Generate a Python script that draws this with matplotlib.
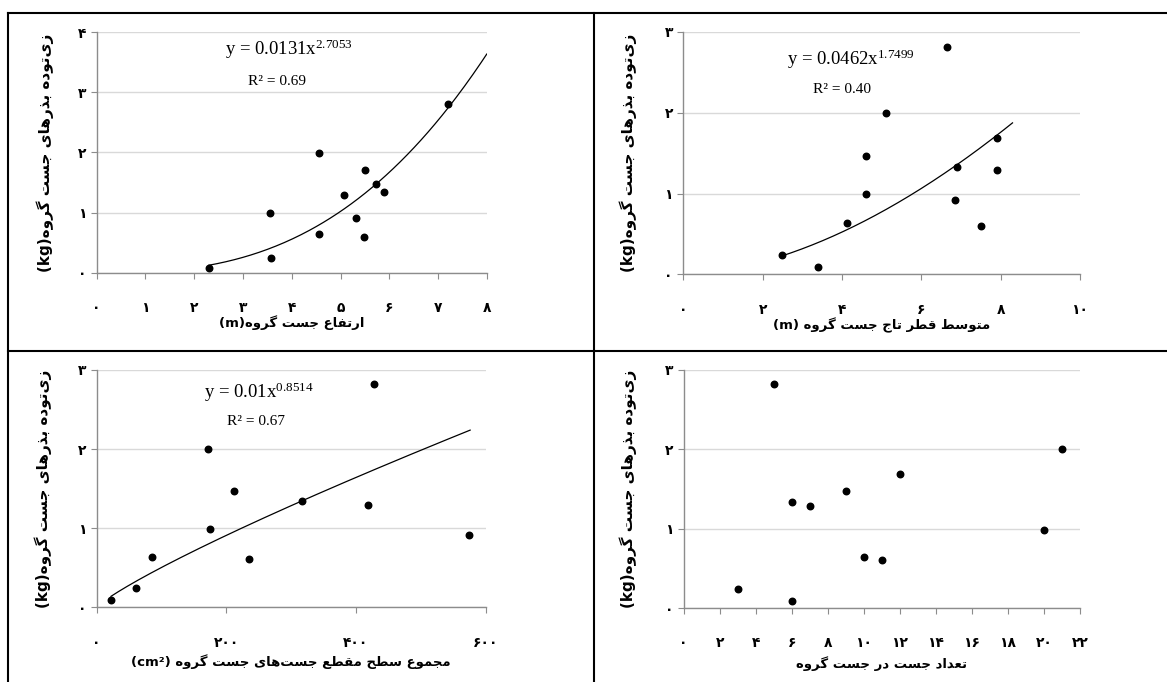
import numpy as np
import matplotlib
matplotlib.use('Agg')
import matplotlib.pyplot as plt
from matplotlib.ticker import FuncFormatter

# داده‌ها
height_x = [2.30, 3.56, 3.58, 4.56, 4.56, 5.07, 5.31, 5.48, 5.51, 5.72, 5.89, 7.21]
height_y = [0.08, 0.99, 0.24, 1.99, 0.64, 1.29, 0.91, 0.60, 1.70, 1.47, 1.34, 2.81]

crown_x = [2.49, 3.40, 4.13, 4.60, 4.60, 5.10, 6.66, 6.85, 6.90, 7.50, 7.91, 7.92]
crown_y = [0.235, 0.087, 0.64, 0.99, 1.46, 2.00, 2.82, 0.92, 1.33, 0.60, 1.69, 1.29]

area_x = [22, 61, 85, 172, 175, 211, 235, 316, 418, 427, 575]
area_y = [0.088, 0.24, 0.64, 2.00, 0.99, 1.47, 0.61, 1.34, 1.29, 2.82, 0.91]

count_x = [3, 5, 6, 6, 7, 9, 10, 11, 12, 20, 21]
count_y = [0.24, 2.82, 1.34, 0.084, 1.29, 1.47, 0.64, 0.61, 1.69, 0.98, 2.0]

# ضرایب معادله توانی و بازه خط روند
height_fit = [0.0131, 2.7053, 2.30, 8.0]
crown_fit = [0.0462, 1.7499, 2.49, 8.30]
area_fit = [0.01, 0.8514, 22, 576]

eq_texts = ['y = 0.0131x$^{2.7053}$', 'y = 0.0462x$^{1.7499}$', 'y = 0.01x$^{0.8514}$']
r2_texts = ['R² = 0.69', 'R² = 0.40', 'R² = 0.67']

y_label = 'زی‌توده بذرهای جست گروه'
x_labels = ['ارتفاع جست گروه', 'متوسط قطر تاج جست گروه', 'مجموع سطح مقطع جست‌های جست گروه',
            'تعداد جست در جست گروه']

# شکل‌های اتصال حروف
FORMS = {
    'ا': ('\uFE8D', '\uFE8E', None, None),
    'ب': ('\uFE8F', '\uFE90', '\uFE91', '\uFE92'),
    'ت': ('\uFE95', '\uFE96', '\uFE97', '\uFE98'),
    'ج': ('\uFE9D', '\uFE9E', '\uFE9F', '\uFEA0'),
    'ح': ('\uFEA1', '\uFEA2', '\uFEA3', '\uFEA4'),
    'د': ('\uFEA9', '\uFEAA', None, None),
    'ذ': ('\uFEAB', '\uFEAC', None, None),
    'ر': ('\uFEAD', '\uFEAE', None, None),
    'ز': ('\uFEAF', '\uFEB0', None, None),
    'س': ('\uFEB1', '\uFEB2', '\uFEB3', '\uFEB4'),
    'ط': ('\uFEC1', '\uFEC2', '\uFEC3', '\uFEC4'),
    'ع': ('\uFEC9', '\uFECA', '\uFECB', '\uFECC'),
    'ف': ('\uFED1', '\uFED2', '\uFED3', '\uFED4'),
    'ق': ('\uFED5', '\uFED6', '\uFED7', '\uFED8'),
    'م': ('\uFEE1', '\uFEE2', '\uFEE3', '\uFEE4'),
    'ه': ('\uFEE9', '\uFEEA', '\uFEEB', '\uFEEC'),
    'و': ('\uFEED', '\uFEEE', None, None),
    'ی': ('\uFBFC', '\uFBFD', '\uFBFE', '\uFBFF'),
    'گ': ('\uFB92', '\uFB93', '\uFB94', '\uFB95'),
}


def shape(text):
    out = []
    for i, c in enumerate(text):
        if c not in FORMS:
            if c != '\u200c':
                out.append(c)
            continue
        prev = text[i - 1] if i > 0 else ''
        nxt = text[i + 1] if i + 1 < len(text) else ''
        join_prev = prev in FORMS and FORMS[prev][2] is not None
        join_next = FORMS[c][2] is not None and nxt in FORMS
        iso, fin, ini, med = FORMS[c]
        if join_prev and join_next:
            out.append(med)
        elif join_prev:
            out.append(fin)
        elif join_next:
            out.append(ini)
        else:
            out.append(iso)
    return ''.join(reversed(out))


def fa_num(v, pos=None):
    s = str(int(round(v)))
    return s.translate(str.maketrans('0123456789', '۰۱۲۳۴۵۶۷۸۹'))


plt.rcParams['mathtext.fontset'] = 'custom'
plt.rcParams['mathtext.rm'] = 'Liberation Serif'
plt.rcParams['mathtext.it'] = 'Liberation Serif'

fig = plt.figure(figsize=(11.67, 6.82), dpi=100)

boxes = [
    [0.0829, 0.6001, 0.3342, 0.3529],
    [0.5855, 0.5978, 0.3399, 0.3553],
    [0.0829, 0.1095, 0.3333, 0.3480],
    [0.5859, 0.1085, 0.3396, 0.3490],
]
xs = [height_x, crown_x, area_x, count_x]
ys = [height_y, crown_y, area_y, count_y]
fits = [height_fit, crown_fit, area_fit, None]
xlims = [(0, 8), (0, 10), (0, 600), (0, 22)]
xsteps = [1, 2, 200, 2]
ylims = [4, 3, 3, 3]
units = ['(m)', '(m) ', '(cm²) ', '']
eq_pos = [(0.493, 0.904), (0.423, 0.864), (0.417, 0.881)]
r2_pos = [(0.462, 0.78), (0.401, 0.747), (0.41, 0.768)]
xlab_y = [-0.209, -0.209, -0.229, -0.232]
ylab_x = [-0.133, -0.139, -0.137, -0.14]

for i in range(4):
    ax = fig.add_axes(boxes[i])
    ax.set_xlim(*xlims[i])
    ax.set_ylim(0, ylims[i])
    ax.set_xticks(np.arange(xlims[i][0], xlims[i][1] + 1e-9, xsteps[i]))
    ax.set_yticks(np.arange(0, ylims[i] + 1))
    ax.grid(axis='y', color='#d9d9d9', linewidth=1)
    ax.set_axisbelow(True)
    for s in ['top', 'right']:
        ax.spines[s].set_visible(False)
    for s in ['left', 'bottom']:
        ax.spines[s].set_color('#8c8c8c')
        ax.spines[s].set_linewidth(1)
    ax.tick_params(axis='x', direction='out', length=4.5, color='#8c8c8c', pad=16,
                   labelsize=10)
    ax.tick_params(axis='y', direction='out', length=4.5, color='#8c8c8c', pad=3,
                   labelsize=10)
    ax.xaxis.set_major_formatter(FuncFormatter(fa_num))
    ax.yaxis.set_major_formatter(FuncFormatter(fa_num))
    for lab in ax.get_xticklabels() + ax.get_yticklabels():
        lab.set_fontweight('bold')
        lab.set_family('DejaVu Sans')

    ax.scatter(xs[i], ys[i], s=22, color='black', zorder=3)

    if fits[i] is not None:
        a, b, x0, x1 = fits[i]
        xx = np.linspace(x0, x1, 200)
        ax.plot(xx, a * xx ** b, color='black', linewidth=0.9)
        ax.text(eq_pos[i][0], eq_pos[i][1], eq_texts[i], transform=ax.transAxes,
                ha='center', va='baseline', fontsize=13.5, family='Liberation Serif')
        ax.text(r2_pos[i][0], r2_pos[i][1], r2_texts[i], transform=ax.transAxes,
                ha='center', va='baseline', fontsize=11, family='Liberation Serif')

    ax.set_xlabel(units[i] + shape(x_labels[i]), fontsize=9.5, fontweight='bold',
                  family='DejaVu Sans', va='center')
    ax.xaxis.set_label_coords(0.5, xlab_y[i])
    ax.set_ylabel('(kg)' + shape(y_label), fontsize=11, fontweight='bold',
                  family='DejaVu Sans', va='center')
    ax.yaxis.set_label_coords(ylab_x[i], 0.5)

# خطوط جدول
lw = 1.5
fig.add_artist(plt.Line2D([0.0069, 1.0], [0.981, 0.981], color='black', linewidth=lw))
fig.add_artist(plt.Line2D([0.0069, 0.0069], [0.0, 0.981], color='black', linewidth=lw))
fig.add_artist(plt.Line2D([0.5086, 0.5086], [0.0, 0.981], color='black', linewidth=lw))
fig.add_artist(plt.Line2D([0.0069, 1.0], [0.4853, 0.4853], color='black', linewidth=lw))

fig.savefig('out.png', dpi=100)
